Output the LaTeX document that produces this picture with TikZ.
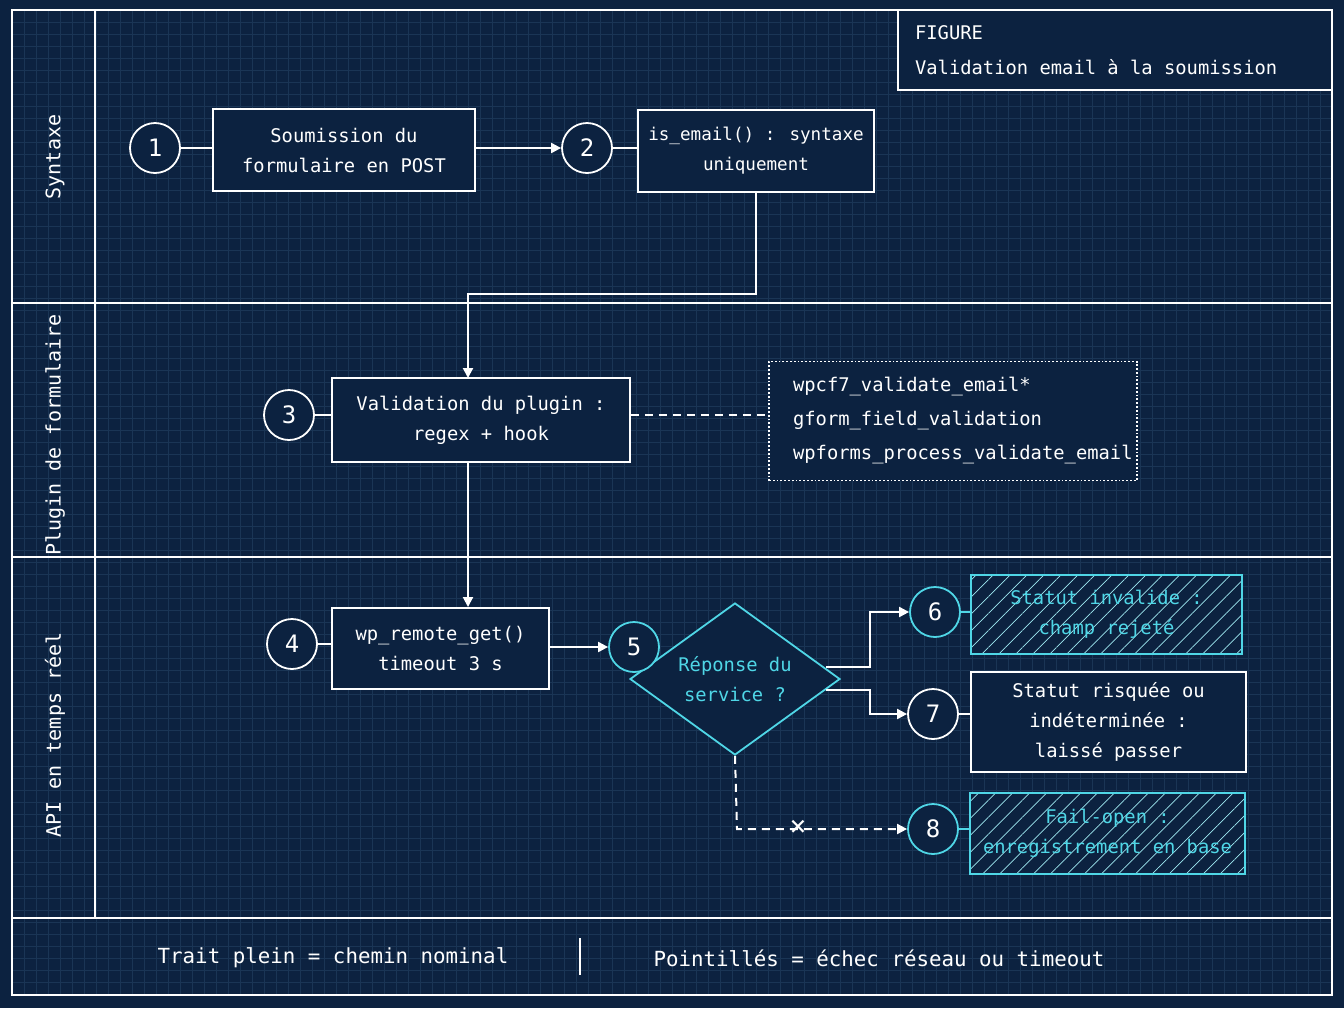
\documentclass[tikz,border=0pt]{standalone}
\usepackage{fontspec}
\setmainfont{DejaVu Sans Mono}
\usetikzlibrary{shapes.geometric,patterns.meta,arrows.meta}
\definecolor{bg}{HTML}{0C2240}
\definecolor{cy}{HTML}{4FD6E6}
\definecolor{gridc}{HTML}{1A3555}
\begin{document}
\begin{tikzpicture}[x=0.5pt,y=-0.5pt,
  every node/.style={font=\fontsize{9.4}{15}\selectfont,text=white,align=center},
  box/.style={draw=white,line width=0.9pt,fill=bg,inner sep=0pt},
  num/.style={circle,draw=white,line width=0.9pt,fill=bg,minimum size=25pt,inner sep=0pt,font=\fontsize{12}{12}\selectfont},
  cnum/.style={num,draw=cy},
  hatchbg/.style={fill=bg,postaction={pattern={Lines[angle=45,distance=6pt,line width=0.35pt]},pattern color=cy!55}},
  hatch/.style={draw=cy,line width=0.9pt,inner sep=0pt,text=cy},
  line/.style={white,line width=1pt},
  arr/.style={line,-{Triangle[length=5pt,width=5pt]}},
  lane/.style={rotate=90,font=\fontsize{10}{10}\selectfont}]
\fill[bg] (0,0) rectangle (1344,1008);
\useasboundingbox (0,0) rectangle (1344,1008);
\foreach \i in {0,...,110} {\draw[gridc,line width=0.2pt] (12+\i*12,10) -- (12+\i*12,995);}
\foreach \i in {0,...,82} {\draw[gridc,line width=0.2pt] (12,10+\i*12) -- (1332,10+\i*12);}
% frame and lanes
\draw[white,line width=0.9pt] (12,10) rectangle (1332,995);
\draw[white,line width=0.9pt] (95,10) -- (95,918);
\draw[white,line width=0.9pt] (12,303) -- (1332,303) (12,557) -- (1332,557) (12,918) -- (1332,918);
\node[lane] (l1) at (55,157) {Syntaxe};
\node[lane] (l2) at (55,435) {Plugin de formulaire};
\node[lane] (l3) at (55,735) {API en temps réel};
% title
\draw[white,line width=0.9pt,fill=bg] (898,10) rectangle (1332,90);
\node[anchor=west,align=left] (t1) at (908,33) {FIGURE};
\node[anchor=west,align=left] (t2) at (908,67) {Validation email à la soumission};
% hatched backgrounds
\path[hatchbg] (971,575) rectangle (1242,654);
\path[hatchbg] (970,793) rectangle (1245,874);
% nodes
\node[box,minimum width=131pt,minimum height=41pt] (b1) at (344,150) {Soumission du\\formulaire en POST};
\node[num] (c1) at (155,148) {1};
\node[box,minimum width=118pt,minimum height=41pt,font=\fontsize{8.8}{15}\selectfont] (b2) at (756,151) {is\_email() : syntaxe\\uniquement};
\node[num] (c2) at (587,148) {2};
\node[box,minimum width=149pt,minimum height=42pt] (b3) at (481,420) {Validation du plugin :\\regex + hook};
\node[num] (c3) at (289,415) {3};
\node[draw=white,densely dotted,line width=0.9pt,fill=bg,minimum width=184pt,minimum height=59.5pt,inner sep=0pt] (nt) at (953,421) {};
\node[anchor=west,align=left] (nt1) at (786,387) {wpcf7\_validate\_email*};
\node[anchor=west,align=left] (nt2) at (786,421) {gform\_field\_validation};
\node[anchor=west,align=left] (nt3) at (786,455) {wpforms\_process\_validate\_email};
\node[box,minimum width=108.5pt,minimum height=40.5pt] (b4) at (440.5,648.5) {wp\_remote\_get()\\timeout 3 s};
\node[num] (c4) at (292,644) {4};
\node[diamond,draw=cy,line width=0.9pt,fill=bg,minimum width=105pt,minimum height=76pt,inner sep=0pt,aspect=1.38,text=cy] (d) at (735,679) {Réponse du\\service ?};
\node[cnum] (c5) at (634,647) {5};
\node[hatch,minimum width=135.5pt,minimum height=39.5pt] (b6) at (1106.5,614.5) {Statut invalide :\\champ rejeté};
\node[cnum] (c6) at (935,612) {6};
\node[box,minimum width=137.5pt,minimum height=50pt] (b7) at (1108.5,722) {Statut risquée ou\\indéterminée :\\laissé passer};
\node[num] (c7) at (933,714) {7};
\node[hatch,minimum width=137.5pt,minimum height=40.5pt] (b8) at (1107.5,833.5) {Fail-open :\\enregistrement en base};
\node[cnum] (c8) at (933,829) {8};
% connectors
\draw[line] (c1) -- (b1.west |- c1);
\draw[line] (c2) -- (b2.west |- c2);
\draw[line] (c3) -- (b3.west |- c3);
\draw[line] (c4) -- (b4.west |- c4);
\draw[line,cy] (c6) -- (b6.west |- c6);
\draw[line] (c7) -- (b7.west |- c7);
\draw[line,cy] (c8) -- (b8.west |- c8);
\draw[arr] (b1.east |- c1) -- (c2);
\coordinate (k3) at (468,378);
\draw[arr] (b2.south) |- (468,294) -- (k3);
\draw[line,dash pattern=on 4pt off 3pt] (b3.east |- c3) -- (nt.west |- c3);
\coordinate (k4) at (468,607);
\draw[arr] (468,462) -- (k4);
\draw[arr] (b4.east |- c5) -- (c5);
\coordinate (d6) at (826,667);
\coordinate (d7) at (826,690);
\draw[arr] (d6) -- (870,667) |- (c6);
\draw[arr] (d7) -- (870,690) |- (c7);
\draw[arr,dash pattern=on 4pt off 3pt] (d.south) -- (737,829) -- (c8);
\node[font=\fontsize{14}{14}\selectfont] (x) at (798,828) {×};
% legend
\node[font=\fontsize{10.4}{15}\selectfont] (lg1) at (333,958) {Trait plein = chemin nominal};
\draw[white,line width=0.9pt] (580,938) -- (580,975);
\node[font=\fontsize{10.4}{15}\selectfont] (lg2) at (879,958) {Pointillés = échec réseau ou timeout};
\end{tikzpicture}
\end{document}
